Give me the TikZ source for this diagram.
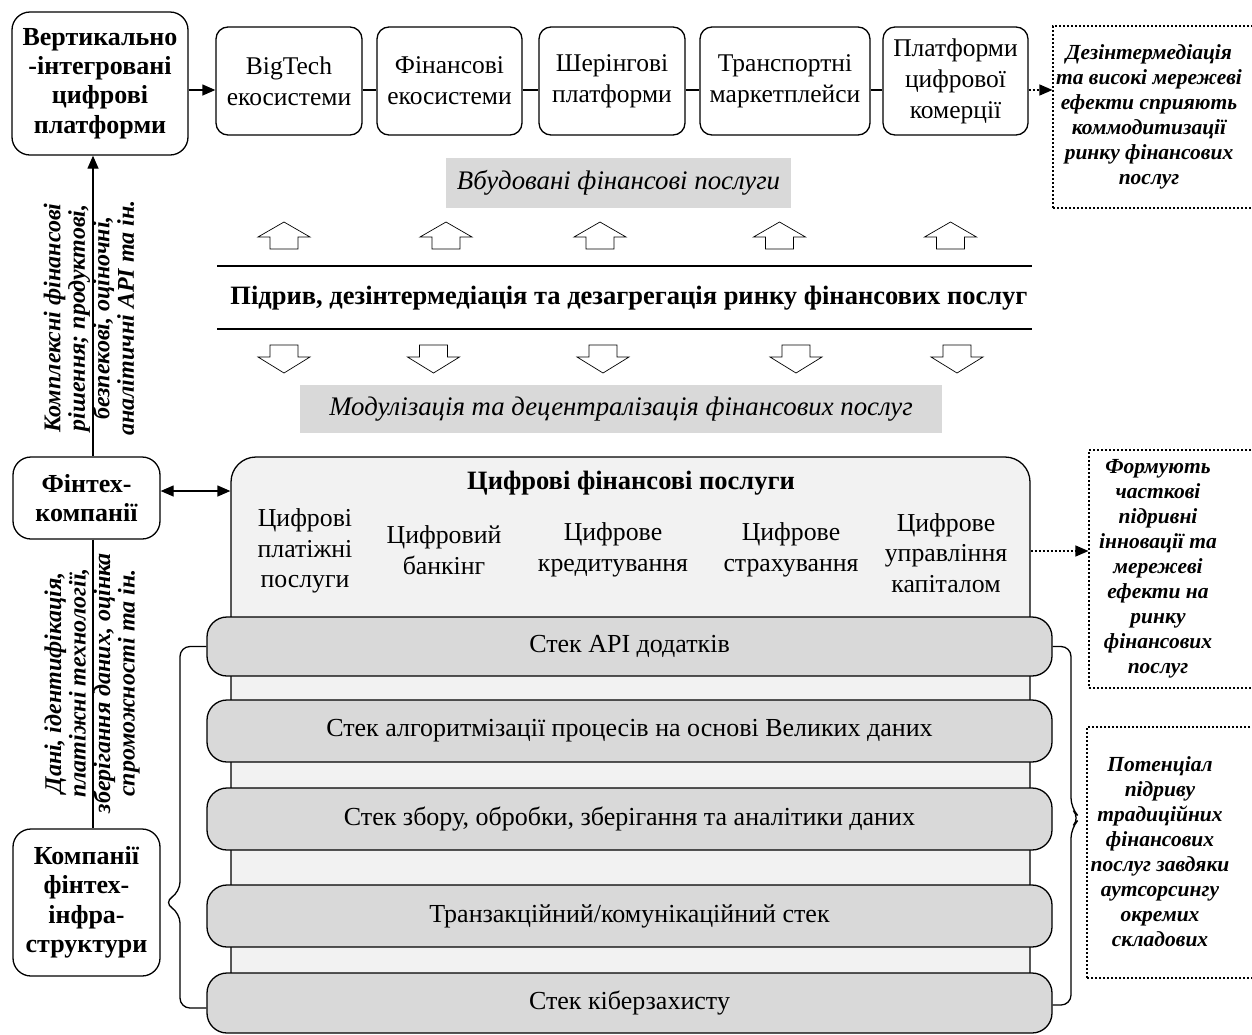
\documentclass[tikz,border=0pt]{standalone}
\usepackage{fontspec}
\setmainfont{Liberation Serif}
\usetikzlibrary{arrows.meta,calc}
\definecolor{gA}{HTML}{D9D9D9}
\definecolor{gB}{HTML}{F2F2F2}
\tikzset{
 topbox/.style={draw, rounded corners=12pt, line width=1.3pt, align=center, minimum height=108pt, inner sep=1pt, font=\fontsize{25.5}{31}\selectfont},
 sidebox/.style={draw, rounded corners=18pt, line width=1.3pt, align=center, inner sep=1pt, font=\bfseries\fontsize{26}{29.5}\selectfont},
 dotframe/.style={draw, dash pattern=on 2pt off 2pt, line width=1.1pt, inner sep=0pt},
 notetext/.style={align=center, font=\bfseries\itshape\fontsize{21.5}{25}\selectfont},
 graybar/.style={fill=gA, inner sep=0pt, font=\itshape\fontsize{26.8}{30}\selectfont},
 stackbox/.style={draw, fill=gA, rounded corners=20pt, line width=1.3pt, inner sep=0pt, font=\fontsize{26}{30}\selectfont},
 arr/.style={line width=1.3pt, -{Triangle[length=13pt,width=11pt]}},
 darr/.style={line width=1.3pt, {Triangle[length=13pt,width=11pt]}-{Triangle[length=13pt,width=11pt]}},
 dotarr/.style={line width=1.1pt, dash pattern=on 2pt off 2pt, -{Triangle[length=13pt,width=11pt]}},
 plainline/.style={line width=1.3pt},
 blockarrow/.style={draw, fill=white, line width=0.7pt},
 brace/.style={line width=1.3pt, rounded corners=10pt},
 rottext/.style={rotate=90, align=center, font=\bfseries\itshape\fontsize{24}{24.5}\selectfont},
 item/.style={align=center, font=\fontsize{25.8}{30.5}\selectfont},
}
\begin{document}
\begin{tikzpicture}[x=1pt,y=-1pt]
\useasboundingbox (0,0) rectangle (1252,1034);
\coordinate (c90) at (0,90);
\coordinate (c491) at (0,491);
\coordinate (c551) at (0,551);
\coordinate (vl) at (93,0);

% top row
\node[sidebox, minimum width=176pt, minimum height=143pt] (vert) at (100,83.5) {Вертикально\\-інтегровані\\цифрові\\платформи};
\node[topbox, minimum width=146pt] (b1) at (289,81) {BigTech\\екосистеми};
\node[topbox, minimum width=145pt] (b2) at (449.5,81) {Фінансові\\екосистеми};
\node[topbox, minimum width=146pt] (b3) at (612,81) {Шерінгові\\платформи};
\node[topbox, minimum width=170pt] (b4) at (785,81) {Транспортні\\маркетплейси};
\node[topbox, minimum width=145pt] (b5) at (955.5,81) {Платформи\\цифрової\\комерції};
\draw[arr] (vert.east |- c90) -- (b1.west |- c90);
\draw[plainline] (b1.east |- c90) -- (b2.west |- c90);
\draw[plainline] (b2.east |- c90) -- (b3.west |- c90);
\draw[plainline] (b3.east |- c90) -- (b4.west |- c90);
\draw[plainline] (b4.east |- c90) -- (b5.west |- c90);

\node[dotframe, minimum width=205pt, minimum height=182pt] (n1f) at (1155.5,117) {};
\node[notetext] (n1) at (1149,117) {Дезінтермедіація\\та високі мережеві\\ефекти сприяють\\коммодитизації\\ринку фінансових\\послуг};
\draw[dotarr] (b5.east |- c90) -- (n1f.west |- c90);

% middle band
\node[graybar, minimum width=345pt, minimum height=50pt] (emb) at (618.5,183) {Вбудовані фінансові послуги};
\foreach \cx in {284,446,600,779.5,950.5}
  \draw[blockarrow] (\cx-14,249) -- (\cx-14,237) -- (\cx-26,237) -- (\cx,222) -- (\cx+26,237) -- (\cx+14,237) -- (\cx+14,249) -- cycle;
\draw[line width=1.5pt] (217,266) -- (1032,266);
\node[font=\bfseries\fontsize{26.5}{30}\selectfont] (disr) at (629,298) {Підрив, дезінтермедіація та дезагрегація ринку фінансових послуг};
\draw[line width=1.5pt] (217,329) -- (1032,329);
\foreach \cx in {284,433.5,603,796,957}
  \draw[blockarrow] (\cx-14,345) -- (\cx-14,357) -- (\cx-26,357) -- (\cx,373) -- (\cx+26,357) -- (\cx+14,357) -- (\cx+14,345) -- cycle;
\node[graybar, minimum width=642pt, minimum height=48pt] (mod) at (621,409) {Модулізація та децентралізація фінансових послуг};

% big box
\node[draw, fill=gB, rounded corners=25pt, line width=1.3pt, minimum width=799pt, minimum height=553pt, inner sep=0pt] (big) at (630.5,733.5) {};
\node[font=\bfseries\fontsize{26.5}{30}\selectfont] (bigt) at (631,483) {Цифрові фінансові послуги};
\node[item] (i1) at (305,551) {Цифрові\\платіжні\\послуги};
\node[item] (i2) at (444,550) {Цифровий\\банкінг};
\node[item] (i3) at (613,550) {Цифрове\\кредитування};
\node[item] (i4) at (791,550) {Цифрове\\страхування};
\node[item] (i5) at (946,553) {Цифрове\\управління\\капіталом};

% stacks
\node[stackbox, minimum width=845pt, minimum height=59pt] (s1) at (629.5,646.5) {Стек API додатків};
\node[stackbox, minimum width=845pt, minimum height=62pt] (s2) at (629.5,731) {Стек алгоритмізації процесів на основі Великих даних};
\node[stackbox, minimum width=845pt, minimum height=62pt] (s3) at (629.5,819) {Стек збору, обробки, зберігання та аналітики даних};
\node[stackbox, minimum width=845pt, minimum height=62pt] (s4) at (629.5,916) {Транзакційний/комунікаційний стек};
\node[stackbox, minimum width=845pt, minimum height=60pt] (s5) at (629.5,1003) {Стек кіберзахисту};

% right notes
\node[dotframe, minimum width=170pt, minimum height=238pt] (n2f) at (1174,569) {};
\node[notetext] (n2) at (1158,569) {Формують\\часткові\\підривні\\інновації та\\мережеві\\ефекти на\\ринку\\фінансових\\послуг};
\draw[dotarr] (big.east |- c551) -- (n2f.west |- c551);

\node[dotframe, minimum width=172pt, minimum height=251pt] (n3f) at (1173,852.5) {};
\node[notetext] (n3) at (1160,852) {Потенціал\\підриву\\традиційних\\фінансових\\послуг завдяки\\аутсорсингу\\окремих\\складових};

% left column
\node[sidebox, minimum width=147pt, minimum height=82pt] (fin) at (86.5,498) {Фінтех-\\компанії};
\node[sidebox, minimum width=147pt, minimum height=147pt] (infra) at (86.5,902.5) {Компанії\\фінтех-\\інфра-\\структури};
\draw[arr] (fin.north -| vl) -- (vert.south -| vl);
\draw[plainline] (fin.south -| vl) -- (infra.north -| vl);
\draw[darr] (fin.east |- c491) -- (big.west |- c491);
\node[rottext] (t1) at (89,318) {Комплексні фінансові\\рішення; продуктові,\\безпекові, оціночні,\\аналітичні API та ін.};
\node[rottext] (t2) at (92,683) {Дані, ідентифікація,\\платіжні технології,\\зберігання даних, оцінка\\спроможності та ін.};

% braces
\draw[brace] (s1.west) -- (180,646.5) -- (180,892) -- ($(infra.east)+(3,0)$) -- (180,913) -- (180,1008) -- (s5.west |- 0,1008);
\draw[brace] (s1.east) -- (1071,646.5) -- (1071,808) -- (1080,818) -- (1071,828) -- (1071,1005) -- (s5.east |- 0,1005);
\end{tikzpicture}
\end{document}
